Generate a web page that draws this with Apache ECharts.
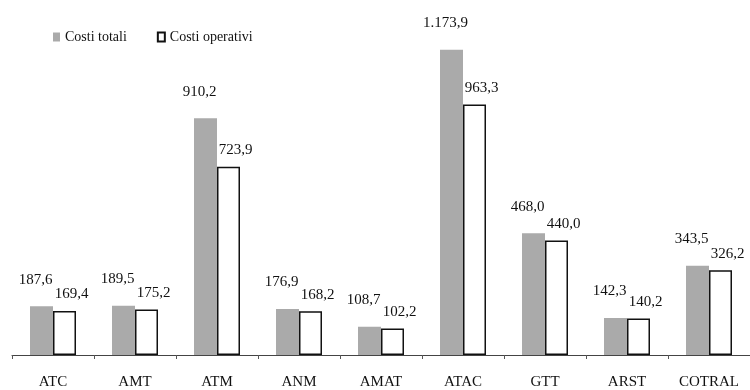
<!DOCTYPE html>
<html>
<head>
<meta charset="utf-8">
<script src="https://cdn.jsdelivr.net/npm/echarts@6/dist/echarts.min.js"></script>
<style>
    html, body { margin: 0; padding: 0; background: #fff; }
    #chart { width: 750px; height: 390px; }
</style>
</head>
<body>
<div id="chart"></div>
<script>
    // aziende di trasporto
    var categories = ['ATC', 'AMT', 'ATM', 'ANM', 'AMAT', 'ATAC', 'GTT', 'ARST', 'COTRAL'];
    var costiTotali = [187.6, 189.5, 910.2, 176.9, 108.7, 1173.9, 468.0, 142.3, 343.5];
    var costiOperativi = [169.4, 175.2, 723.9, 168.2, 102.2, 963.3, 440.0, 140.2, 326.2];

    // formato italiano: 1.173,9
    function fmt(v) {
        var parts = v.toFixed(1).split('.');
        var int = parts[0].replace(/\B(?=(\d{3})+(?!\d))/g, '.');
        return int + ',' + parts[1];
    }

    var chart = echarts.init(document.getElementById('chart'));
    var font = 'Liberation Serif';

    chart.setOption({
        animation: false,
        legend: {
            left: 48,
            top: 25,
            icon: 'rect',
            itemWidth: 7,
            itemHeight: 9,
            itemGap: 30,
            textStyle: { fontFamily: font, fontSize: 14, color: '#111' },
            data: ['Costi totali', 'Costi operativi']
        },
        grid: { left: 12, right: 0, top: 43, bottom: 35 },
        xAxis: {
            type: 'category',
            data: categories,
            axisLine: { lineStyle: { color: '#444', width: 1 } },
            axisTick: { show: true, length: 4, lineStyle: { color: '#555' } },
            axisLabel: { margin: 20, fontFamily: font, fontSize: 15, color: '#111' }
        },
        yAxis: {
            type: 'value',
            min: 0,
            max: 1200,
            show: false
        },
        series: [
            {
                name: 'Costi totali',
                type: 'bar',
                data: costiTotali,
                barWidth: 23,
                barGap: '0%',
                itemStyle: { color: '#aaaaaa' },
                label: {
                    show: true,
                    position: 'top',
                    distance: 19,
                    offset: [-6, 0],
                    formatter: function (p) { return fmt(p.value); },
                    fontFamily: font, fontSize: 15, color: '#111'
                }
            },
            {
                name: 'Costi operativi',
                type: 'bar',
                data: costiOperativi,
                barWidth: 23,
                itemStyle: { color: '#ffffff', borderColor: '#111', borderWidth: 1.5 },
                label: {
                    show: true,
                    position: 'top',
                    distance: 9,
                    offset: [7, 0],
                    formatter: function (p) { return fmt(p.value); },
                    fontFamily: font, fontSize: 15, color: '#111'
                }
            }
        ]
    });
</script>
</body>
</html>
